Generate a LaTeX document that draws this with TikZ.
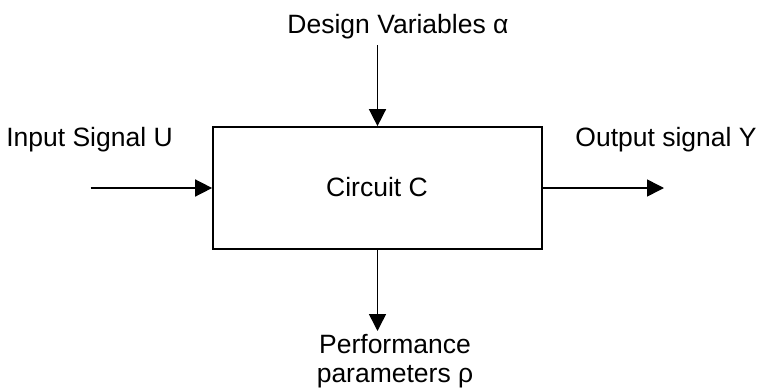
\documentclass[tikz,border=0pt]{standalone}
\usepackage{fontspec}
\setmainfont{Liberation Sans}
\usetikzlibrary{arrows.meta}
\tikzset{
  lbl/.style={inner sep=0pt, anchor=base, font=\fontsize{26.5}{29}\selectfont},
  blockbox/.style={draw, line width=1.7pt, minimum width=329pt, minimum height=122pt, inner sep=0pt, font=\fontsize{26.5}{29}\selectfont},
  flow/.style={line width=1.5pt, -{Triangle[length=17pt,width=17pt]}}
}
\begin{document}
\begin{tikzpicture}[x=1pt,y=-1pt]
  \useasboundingbox (0,0) rectangle (759,388);
  % central block
  \node[blockbox] (circ) at (377.5,188) {};
  \node[lbl] (circlbl) at (377,196.5) {Circuit C};
  % free ends of the connectors
  \coordinate (topin) at (377.5,45);
  \coordinate (leftin) at (90.5,188);
  \coordinate (rightout) at (664,188);
  \coordinate (botout) at (377.5,331);
  % connectors
  \draw[flow] (topin) -- (circ.north);
  \draw[flow] (leftin) -- (circ.west);
  \draw[flow] (circ.east) -- (rightout);
  \draw[flow] (circ.south) -- (botout);
  % labels
  \node[lbl] (design) at (398,33) {Design Variables α};
  \node[lbl] (input) at (89.5,146) {Input Signal U};
  \node[lbl] (output) at (666,146) {Output signal Y};
  \node[lbl, align=center] (perf) at (395,382) {Performance\\parameters ρ};
\end{tikzpicture}
\end{document}
